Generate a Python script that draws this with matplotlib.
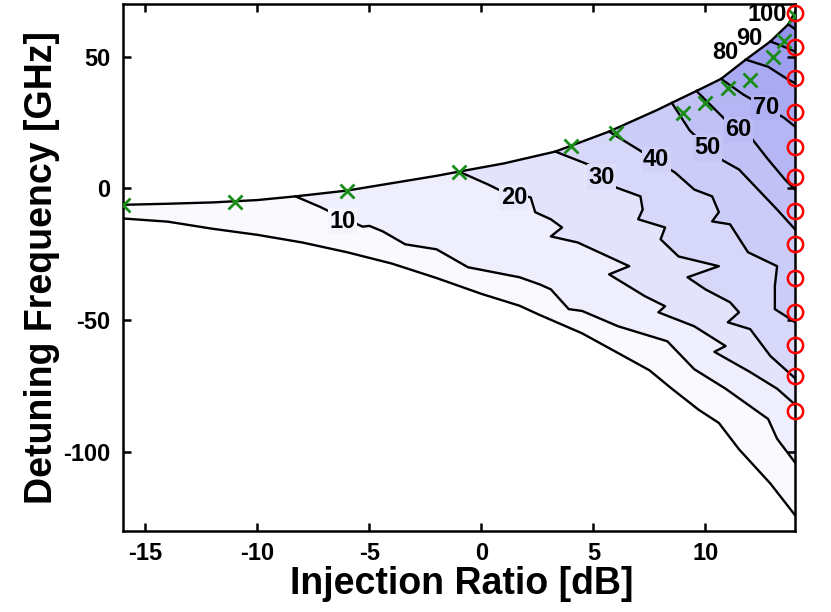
import numpy as np
import matplotlib.pyplot as plt

plt.rcParams['font.family'] = ['Liberation Sans', 'DejaVu Sans']
plt.rcParams['font.weight'] = 'bold'
plt.rcParams['axes.unicode_minus'] = False

# locking range boundaries
upper_x = [-16, -14, -12, -10, -8.3, -6, -4, -2, -1, 1, 3.3, 5.7, 7.9, 8.5, 9.6, 10.7, 11.8, 12.9, 13.7, 14]
upper_y = [-6.2, -5.8, -5.3, -4.4, -3.0, -0.8, 2.0, 4.8, 6.4, 9.5, 14, 21.6, 30, 32.5, 37, 41.6, 48.9, 55.8, 62.3, 67]
lower_x = [-16, -14, -12, -10, -8, -6, -4, -2, 0, 1.7, 2.6, 4.5, 6, 7.5, 8.5, 9.7, 10.6, 11.5, 12.9, 14]
lower_y = [-11.4, -12.6, -15.3, -17.6, -20.5, -24.2, -28.5, -34, -40, -44.5, -48, -55, -62, -69, -76, -84, -89, -99, -112, -124]

# contour lines, each starts on the upper boundary and ends at 14 dB
levels = [10, 20, 30, 40, 50, 60, 70, 80, 90, 100]
c10_x = [-8.3, -7.2, -6.6, -5.3, -5.0, -4.4, -3.4, -2.0, -0.6, 1.7, 2.6, 3.1, 3.9, 4.5, 6.1, 8.3, 9.5, 10.9, 12.8, 13.2, 14]
c10_y = [-3, -7, -9.5, -14.5, -14.2, -16.3, -21.2, -23.1, -29.9, -33.7, -36.4, -38.3, -45.8, -46.5, -52.3, -58, -68.6, -76, -87.5, -95, -104]
c20_x = [-1, 0.3, 0.9, 2.2, 2.4, 3.1, 3.6, 3.1, 4.3, 6.6, 5.7, 7.3, 8.2, 7.9, 9.5, 10.9, 10.4, 12, 13.2, 14]
c20_y = [6.4, 1.5, -1, -3.4, -9, -11.7, -14.8, -18.2, -20.5, -29.5, -32.6, -40.9, -44.7, -47, -52.3, -59.8, -62, -69.7, -76, -82]
c30_x = [3.3, 4.8, 6.0, 7.1, 7.2, 7.0, 8.2, 8.0, 8.8, 10.6, 9.2, 10.0, 11.1, 11.5, 11.0, 12.0, 12.9, 14]
c30_y = [14, 9, 0.4, -3, -8, -11.7, -14.8, -19.3, -25.8, -29.5, -33.7, -38.3, -43.2, -47, -50.8, -53.4, -63.6, -72]
c40_x = [5.7, 7.0, 8.65, 9.5, 10.3, 10.6, 10.3, 11.1, 11.9, 13.2, 13.1, 13.1, 13.6, 14]
c40_y = [21.6, 14.8, 6, -0.4, -3, -9, -12.5, -13.6, -24.2, -29.5, -37, -45.8, -48.5, -50.8]
c50_x = [8.5, 9.3, 10.1, 10.7, 11.5, 12.35, 13.2, 14]
c50_y = [32.5, 22, 15.5, 11, 7.2, -0.4, -8, -15.5]
c60_x = [9.6, 10.9, 11.5, 12.1, 12.8, 13.55, 14]
c60_y = [37, 26, 22.3, 18.6, 11, 3.4, -0.4]
c70_x = [10.7, 11.7, 12.7, 13.5, 14]
c70_y = [41.6, 35.6, 30.7, 26.9, 23.5]
c80_x = [11.8, 12.8, 13.7, 14]
c80_y = [48.9, 46.2, 41.3, 40]
c90_x = [12.9, 13.45, 14]
c90_y = [55.8, 54, 52]
c100_x = [13.7, 14]
c100_y = [62.3, 60.5]

# contour label positions
label_x = [-6.2, 1.45, 5.36, 7.8, 10.1, 11.46, 12.7, 10.9, 11.95, 12.75]
label_y = [-12.5, -3.4, 4.2, 11, 15.5, 22.3, 30.7, 51.5, 56.8, 66.2]

# measured points
green_x = [-16, -11, -6, -1, 4, 6, 9, 10, 11, 12, 13, 13.5, 14]
green_y = [-6.4, -5.3, -0.8, 6.2, 16, 21.2, 28.8, 32.6, 38.3, 41.3, 50, 56, 65.5]
red_y = [66.7, 53.8, 42, 29.2, 15.9, 4.2, -8.7, -21.2, -34.1, -47, -59.5, -71.2, -84.5]
red_x = [14] * len(red_y)

xticks = [-15, -10, -5, 0, 5, 10]
yticks = [-100, -50, 0, 50]


def band_color(v):
    return ((255 - 1.13 * v) / 255, (255 - 1.13 * v) / 255, (255 - 0.16 * v) / 255)


contours = [(c10_x, c10_y), (c20_x, c20_y), (c30_x, c30_y), (c40_x, c40_y), (c50_x, c50_y),
            (c60_x, c60_y), (c70_x, c70_y), (c80_x, c80_y), (c90_x, c90_y), (c100_x, c100_y)]

fig = plt.figure(figsize=(8.31, 6.12), dpi=100)
ax = fig.add_axes([0.148, 0.1324, 0.8087, 0.861])

# whole locking region = lowest band
ax.fill(upper_x + lower_x[::-1], upper_y + lower_y[::-1], color=band_color(5), lw=0)

# paint the part above each contour, one level after the other
for lev, (cx, cy) in zip(levels, contours):
    keep = [i for i in range(len(upper_x)) if upper_x[i] > cx[0]]
    px = cx + [upper_x[i] for i in reversed(keep)]
    py = cy + [upper_y[i] for i in reversed(keep)]
    ax.fill(px, py, color=band_color(lev + 5), lw=0)

for cx, cy in contours:
    ax.plot(cx, cy, color='k', lw=1.7)
ax.plot(upper_x, upper_y, color='k', lw=1.7)
ax.plot(lower_x, lower_y, color='k', lw=1.7)

for i, lev in enumerate(levels):
    if lev <= 70:
        box = dict(facecolor=band_color(lev), edgecolor='none', pad=1)
    else:
        box = None
    ax.text(label_x[i], label_y[i], str(lev), ha='center', va='center',
            fontsize=17, fontweight='bold', bbox=box, zorder=4)

ax.plot(green_x, green_y, 'x', color=(0.1, 0.55, 0.1), ms=10, mew=2, zorder=5)
ax.plot(red_x, red_y, 'o', mfc='none', mec='red', ms=11, mew=1.8, clip_on=False, zorder=6)

ax.set_xlim(-16, 14)
ax.set_ylim(-130, 70)
ax.set_xticks(xticks)
ax.set_yticks(yticks)
ax.tick_params(direction='in', length=6, width=1.8, top=True, right=True, labelsize=17)
ax.tick_params(axis='x', pad=8)
ax.tick_params(axis='y', pad=9)
for s in ax.spines.values():
    s.set_linewidth(1.8)

ax.set_xlabel('Injection Ratio [dB]', fontsize=27, fontweight='bold')
ax.set_ylabel('Detuning Frequency [GHz]', fontsize=27, fontweight='bold')
ax.xaxis.set_label_coords(0.504, -0.066)
ax.yaxis.set_label_coords(-0.094, 0.5)

plt.savefig('out.png', dpi=100)
